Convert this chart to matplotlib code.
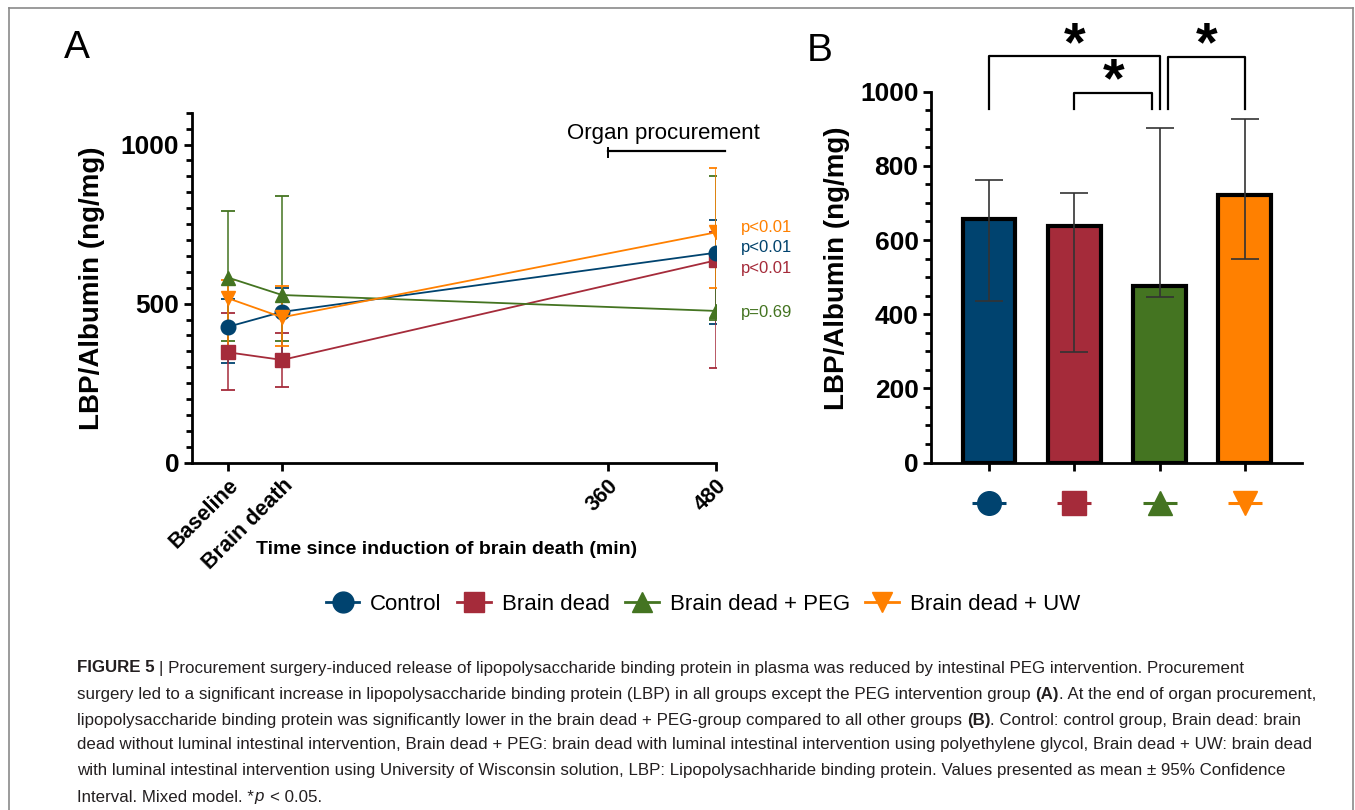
import matplotlib
matplotlib.use('Agg')
import matplotlib.pyplot as plt
from matplotlib.ticker import MultipleLocator
from matplotlib.lines import Line2D

plt.rcParams['font.family'] = ['Liberation Sans', 'DejaVu Sans']

# ---- data ----
groups = ['Control', 'Brain dead', 'Brain dead + PEG', 'Brain dead + UW']
colors = ['#00436F', '#A52B3A', '#447421', '#FF8000']
markers = ['o', 's', '^', 'v']

# panel A: time course (mean, lower CI, upper CI)
times = [-60, 0, 480]
time_ticks = [-60, 0, 360, 480]
time_labels = ['Baseline', 'Brain death', '360', '480']
mean_a = [[427, 474, 660], [347, 323, 636], [582, 527, 477], [517, 457, 724]]
low_a = [[314, 307, 436], [228, 239, 299], [383, 383, 448], [368, 368, 548]]
high_a = [[513, 548, 764], [471, 407, 726], [791, 838, 900], [573, 555, 927]]
p_labels = ['p<0.01', 'p<0.01', 'p=0.69', 'p<0.01']
p_ypos = [676, 610, 473, 738]

# panel B: end of procurement
mean_b = [658, 637, 475, 722]
low_b = [435, 299, 447, 548]
high_b = [763, 726, 901, 927]
# significance brackets: (left, right, height, star x)
brackets = [(0, 2.0, 1096, 1.0), (1.0, 1.91, 997, 1.46), (2.1, 3.0, 1094, 2.55)]
bracket_foot = 952

W, H = 1355, 810
fig = plt.figure(figsize=(W / 100, H / 100), dpi=100)

# ---------- panel A ----------
axA = fig.add_axes([191.7 / W, 1 - 462.7 / H, 524.3 / W, 350 / H])
for i in range(4):
    yerr = [[m - l for m, l in zip(mean_a[i], low_a[i])],
            [h - m for m, h in zip(mean_a[i], high_a[i])]]
    axA.errorbar(times, mean_a[i], yerr=yerr, fmt='none', ecolor=colors[i],
                 elinewidth=1.1, capsize=5, capthick=1.3, zorder=2)
for i in [1, 0, 2, 3]:
    axA.plot(times, mean_a[i], color=colors[i], marker=markers[i], ms=10.5,
             lw=1.3, zorder=3)
for i in range(4):
    axA.text(508, p_ypos[i], p_labels[i], color=colors[i], fontsize=12,
             va='center', ha='left', clip_on=False)

axA.plot([360, 490], [980, 980], color='black', lw=1.6, clip_on=False)
axA.plot([360, 360], [960, 990], color='black', lw=1.4, clip_on=False)
axA.text(422, 1035, 'Organ procurement', fontsize=16, ha='center', va='center')

axA.set_xlim(-100, 480)
axA.set_ylim(0, 1100)
axA.set_xticks(time_ticks)
axA.set_xticklabels(time_labels, rotation=45, ha='right', rotation_mode='anchor',
                    fontsize=15.5, fontweight='bold')
axA.set_yticks([0, 500, 1000])
axA.set_yticklabels(['0', '500', '1000'], fontsize=19, fontweight='bold')
axA.yaxis.set_minor_locator(MultipleLocator(50))
axA.tick_params(axis='both', which='major', width=2, length=6, pad=3)
axA.tick_params(axis='y', which='minor', width=2, length=4)
axA.set_ylabel('LBP/Albumin (ng/mg)', fontsize=20, fontweight='bold')
axA.yaxis.set_label_coords(-0.165, 0.499)
axA.set_xlabel('Time since induction of brain death (min)', fontsize=14,
               fontweight='bold', va='center')
axA.xaxis.set_label_coords(0.487, -0.249)
for s in ['top', 'right']:
    axA.spines[s].set_visible(False)
for s in ['left', 'bottom']:
    axA.spines[s].set_linewidth(2)

# ---------- panel B ----------
axB = fig.add_axes([931 / W, 1 - 462.5 / H, 371 / W, 370.8 / H])
xb = list(range(4))
axB.bar(xb, mean_b, width=0.62, color=colors, edgecolor='black', linewidth=3,
        zorder=2)
axB.errorbar(xb, mean_b, yerr=[[m - l for m, l in zip(mean_b, low_b)],
                               [h - m for m, h in zip(mean_b, high_b)]],
             fmt='none', ecolor='#333333', elinewidth=1.2, capsize=10,
             capthick=1.2, zorder=3)
for x1, x2, top, sx in brackets:
    axB.plot([x1, x1, x2, x2], [bracket_foot, top, top, bracket_foot],
             color='black', lw=1.6, clip_on=False)
    axB.annotate('*', xy=(sx, top + 50), xytext=(0, -16),
                 textcoords='offset points', ha='center', va='baseline',
                 fontsize=40, fontweight='bold', annotation_clip=False)

tr = axB.get_xaxis_transform()
for i in range(4):
    axB.plot(xb[i], -0.109, transform=tr, marker='_', ms=24, mew=2.2,
             color=colors[i], clip_on=False)
    axB.plot(xb[i], -0.109, transform=tr, marker=markers[i], ms=17,
             color=colors[i], mec=colors[i], clip_on=False)

axB.set_xlim(-0.68, 3.67)
axB.set_ylim(0, 1000)
axB.set_xticks(xb)
axB.set_xticklabels([])
axB.set_yticks([0, 200, 400, 600, 800, 1000])
axB.set_yticklabels(['0', '200', '400', '600', '800', '1000'], fontsize=19,
                    fontweight='bold')
axB.yaxis.set_minor_locator(MultipleLocator(50))
axB.tick_params(axis='both', which='major', width=2, length=6, pad=3)
axB.tick_params(axis='y', which='minor', width=2, length=4)
axB.set_ylabel('LBP/Albumin (ng/mg)', fontsize=20, fontweight='bold')
axB.yaxis.set_label_coords(-0.218, 0.525)
for s in ['top', 'right']:
    axB.spines[s].set_visible(False)
for s in ['left', 'bottom']:
    axB.spines[s].set_linewidth(2)

# panel letters
fig.text(77 / W, 1 - 48 / H, 'A', fontsize=28, ha='center', va='center')
fig.text(820 / W, 1 - 51 / H, 'B', fontsize=28, ha='center', va='center')

# legend
handles = [Line2D([], [], color=colors[i], marker=markers[i], ms=15, lw=2)
           for i in range(4)]
fig.legend(handles, groups, loc='center', bbox_to_anchor=(703 / W, 1 - 604 / H),
           ncol=4, frameon=False, fontsize=16, handlelength=1.5,
           handletextpad=0.5, columnspacing=0.7)

# border around the figure panel
border = dict(color='#8a8a8a', lw=1.2, transform=fig.transFigure)
fig.add_artist(Line2D([9 / W, 9 / W], [0, 1 - 8 / H], **border))
fig.add_artist(Line2D([9 / W, 1353 / W], [1 - 8 / H, 1 - 8 / H], **border))
fig.add_artist(Line2D([1353 / W, 1353 / W], [0, 1 - 8 / H], **border))

# caption
cap_ax = fig.add_axes([0, 0, 1, 1])
cap_ax.axis('off')
cap_ax.set_xlim(0, 1)
cap_ax.set_ylim(0, 1)
caption = [
    [('FIGURE 5', 'bold', 'normal'), ('| Procurement surgery-induced release of lipopolysaccharide binding protein in plasma was reduced by intestinal PEG intervention. Procurement', 'normal', 'normal')],
    [('surgery led to a significant increase in lipopolysaccharide binding protein (LBP) in all groups except the PEG intervention group', 'normal', 'normal'), ('(A)', 'bold', 'normal'), ('. At the end of organ procurement,', 'normal', 'normal')],
    [('lipopolysaccharide binding protein was significantly lower in the brain dead + PEG-group compared to all other groups', 'normal', 'normal'), ('(B)', 'bold', 'normal'), ('. Control: control group, Brain dead: brain', 'normal', 'normal')],
    [('dead without luminal intestinal intervention, Brain dead + PEG: brain dead with luminal intestinal intervention using polyethylene glycol, Brain dead + UW: brain dead', 'normal', 'normal')],
    [('with luminal intestinal intervention using University of Wisconsin solution, LBP: Lipopolysachharide binding protein. Values presented as mean \u00b1 95% Confidence', 'normal', 'normal')],
    [('Interval. Mixed model. *', 'normal', 'normal'), ('p', 'normal', 'italic'), ('< 0.05.', 'normal', 'normal')],
]
line_y = [668, 694, 720, 745, 771, 797]
cap_fs = 12.2
for y, parts in zip(line_y, caption):
    prev = None
    for k, (txt, wt, st) in enumerate(parts):
        pad = 0
        if k > 0 and not txt.startswith('.'):
            pad = 3.4
        if k > 0 and parts[k - 1][2] == 'italic':
            pad = 4.5
        if k > 0 and parts[k - 1][0].endswith('*'):
            pad = 0.5
        if prev is None:
            prev = cap_ax.text(77 / W, 1 - y / H, txt, fontsize=cap_fs,
                               fontweight=wt, fontstyle=st, color='#231F20',
                               va='center', ha='left')
        else:
            prev = cap_ax.annotate(txt, xy=(1, 0), xycoords=prev,
                                   xytext=(pad, 0), textcoords='offset points',
                                   fontsize=cap_fs, fontweight=wt, fontstyle=st,
                                   color='#231F20', va='bottom', ha='left')

fig.savefig('out.png', dpi=100)
